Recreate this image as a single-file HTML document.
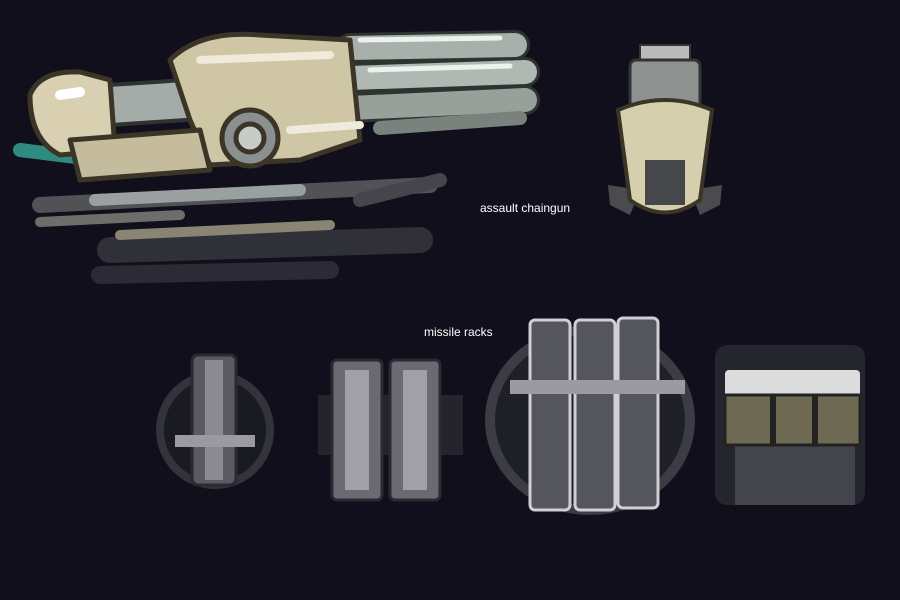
<!DOCTYPE html>
<html><head><meta charset="utf-8"><style>
html,body{margin:0;padding:0;background:#100f1b;}
svg{display:block}
text{font-family:"Liberation Sans",sans-serif;font-size:12px;fill:#fff}
</style></head><body>
<svg width="900" height="600" viewBox="0 0 900 600">
<rect width="900" height="600" fill="#100f1b"/>
<!-- chaingun shadows -->
<g stroke-linecap="round" fill="none">
<path d="M110 250 L420 240" stroke="#303039" stroke-width="26"/>
<path d="M100 275 L330 270" stroke="#2b2b35" stroke-width="18"/>
<path d="M40 205 L430 185" stroke="#505256" stroke-width="16"/>
<path d="M40 222 L180 215" stroke="#6c6e6a" stroke-width="10"/>
<path d="M120 235 L330 225" stroke="#8a8472" stroke-width="10"/>
<path d="M95 200 L300 190" stroke="#9aa0a0" stroke-width="12"/>
<path d="M360 200 L440 180" stroke="#45464c" stroke-width="14"/>
<path d="M20 150 L100 160" stroke="#2f8a80" stroke-width="14"/>
</g>
<!-- barrels -->
<g stroke-linecap="round">
<path d="M350 48 L515 45" stroke="#2e3330" stroke-width="30"/>
<path d="M350 48 L515 45" stroke="#a8b0ac" stroke-width="24"/>
<path d="M350 78 L525 72" stroke="#2e3330" stroke-width="30"/>
<path d="M350 78 L525 72" stroke="#b0b8b4" stroke-width="24"/>
<path d="M350 108 L525 100" stroke="#2e3330" stroke-width="30"/>
<path d="M350 108 L525 100" stroke="#98a09c" stroke-width="24"/>
<path d="M360 40 L500 38" stroke="#eef2ef" stroke-width="5"/>
<path d="M370 70 L510 66" stroke="#eef2ef" stroke-width="5"/>
<path d="M380 128 L520 118" stroke="#7a827e" stroke-width="14"/>
<path d="M110 105 L260 95" stroke="#2e3330" stroke-width="44"/>
<path d="M110 105 L260 95" stroke="#a4acaa" stroke-width="36"/>
</g>
<!-- body -->
<g stroke="#3a3526" stroke-width="5" stroke-linejoin="round">
<path d="M170 60 Q200 30 260 35 L350 40 L360 140 L300 160 L210 165 L190 120 Z" fill="#cfc6a6"/>
<path d="M30 95 Q40 70 80 72 L110 80 L115 150 L60 155 Q30 140 30 95Z" fill="#d8d0b0"/>
<path d="M70 140 L200 130 L210 170 L80 180 Z" fill="#c4bc9c"/>
<circle cx="250" cy="138" r="28" fill="#8a9090"/>
<circle cx="250" cy="138" r="14" fill="#c8ccc8"/>
</g>
<path d="M200 60 L330 55" stroke="#efeadb" stroke-width="8" stroke-linecap="round"/>
<path d="M290 130 L360 125" stroke="#efeadb" stroke-width="8" stroke-linecap="round"/>
<path d="M60 95 L80 92" stroke="#fff" stroke-width="10" stroke-linecap="round"/>
<!-- top view -->
<rect x="640" y="45" width="50" height="20" fill="#bbb" stroke="#333" stroke-width="2"/>
<rect x="630" y="60" width="70" height="60" rx="6" fill="#8d9290" stroke="#333" stroke-width="3"/>
<path d="M608 185 L640 190 L630 215 L610 205 Z" fill="#4a4b4d"/>
<path d="M722 185 L690 190 L700 215 L720 205 Z" fill="#4a4b4d"/>
<path d="M618 110 Q665 90 712 110 L700 200 Q665 225 630 200 Z" fill="#d6cfae" stroke="#3a3526" stroke-width="4"/>
<rect x="645" y="160" width="40" height="45" fill="#45474a"/>
<!-- labels -->
<text x="480" y="212">assault chaingun</text>
<text x="424" y="336">missile racks</text>
<!-- rack 1 -->
<ellipse cx="215" cy="430" rx="55" ry="55" fill="#1a1a22" stroke="#33333c" stroke-width="8"/>
<rect x="192" y="355" width="44" height="130" rx="6" fill="#5a5a62" stroke="#2a2a30" stroke-width="3"/>
<rect x="205" y="360" width="18" height="120" fill="#8a8a90"/>
<rect x="175" y="435" width="80" height="12" fill="#9a9aa0"/>
<!-- rack 2 -->
<rect x="318" y="395" width="145" height="60" fill="#24242c"/>
<rect x="332" y="360" width="50" height="140" rx="5" fill="#6a6a72" stroke="#2a2a30" stroke-width="3"/>
<rect x="390" y="360" width="50" height="140" rx="5" fill="#6a6a72" stroke="#2a2a30" stroke-width="3"/>
<rect x="345" y="370" width="24" height="120" fill="#a0a0a6"/>
<rect x="403" y="370" width="24" height="120" fill="#a0a0a6"/>
<!-- rack 3 -->
<ellipse cx="590" cy="420" rx="100" ry="90" fill="#1f1f27" stroke="#3c3c44" stroke-width="10"/>
<rect x="530" y="320" width="40" height="190" rx="5" fill="#55555d" stroke="#cfcfd4" stroke-width="3"/>
<rect x="575" y="320" width="40" height="190" rx="5" fill="#55555d" stroke="#cfcfd4" stroke-width="3"/>
<rect x="618" y="318" width="40" height="190" rx="5" fill="#55555d" stroke="#cfcfd4" stroke-width="3"/>
<rect x="510" y="380" width="175" height="14" fill="#9a9aa0"/>
<!-- rack 4 -->
<rect x="715" y="345" width="150" height="160" rx="12" fill="#25252d"/>
<rect x="735" y="440" width="120" height="65" fill="#44444c"/>
<rect x="725" y="370" width="135" height="30" rx="4" fill="#dcdcdc"/>
<rect x="725" y="395" width="135" height="50" fill="#6e6952" stroke="#222" stroke-width="3"/>
<rect x="770" y="395" width="6" height="50" fill="#222"/>
<rect x="812" y="395" width="6" height="50" fill="#222"/>
</svg>
</body></html>
